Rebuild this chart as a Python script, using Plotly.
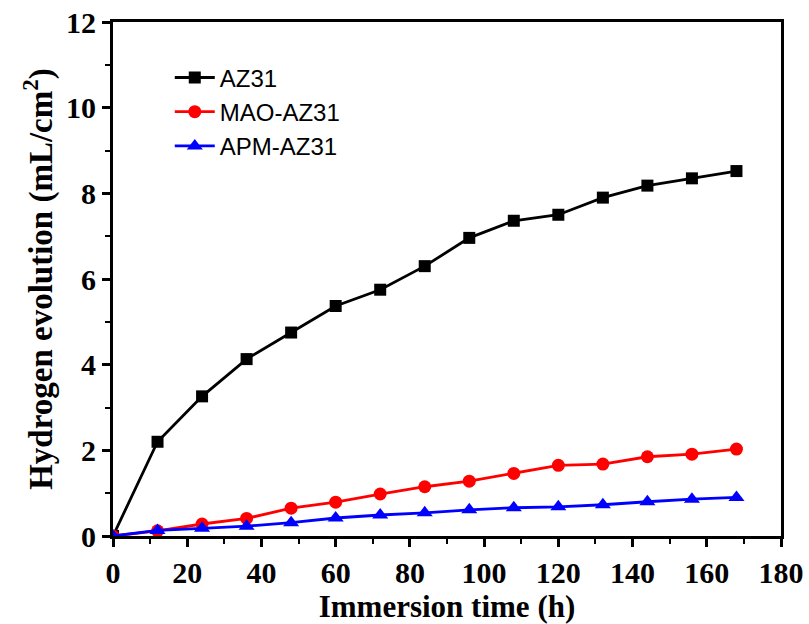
import plotly.graph_objects as go

time_h = [0, 12, 24, 36, 48, 60, 72, 84, 96, 108, 120, 132, 144, 156, 168]
az31 = [0.0, 2.20, 3.26, 4.13, 4.75, 5.37, 5.75, 6.30, 6.96, 7.36, 7.50, 7.90, 8.18, 8.35, 8.52]
mao_az31 = [0.0, 0.12, 0.28, 0.41, 0.65, 0.79, 0.98, 1.15, 1.28, 1.46, 1.65, 1.68, 1.85, 1.91, 2.03]
apm_az31 = [0.0, 0.13, 0.18, 0.23, 0.31, 0.42, 0.49, 0.54, 0.61, 0.66, 0.68, 0.73, 0.80, 0.86, 0.90]

series = [
    ("AZ31", az31, "black", "square", 12),
    ("MAO-AZ31", mao_az31, "red", "circle", 13),
    ("APM-AZ31", apm_az31, "blue", "triangle-up", 14),
]

fig = go.Figure()
for name, vals, col, sym, sz in series:
    fig.add_trace(go.Scatter(
        x=time_h, y=vals, name=name, mode="lines+markers",
        line=dict(color=col, width=2.8),
        marker=dict(symbol=sym, size=sz, color=col),
    ))

serif = "Liberation Serif"
fig.update_layout(
    width=809, height=624,
    margin=dict(l=113, r=28, t=22, b=88),
    paper_bgcolor="white", plot_bgcolor="white",
    showlegend=True,
    legend=dict(x=0.085, y=0.935, xanchor="left", yanchor="top",
                font=dict(family="Liberation Sans", size=24, color="black"),
                bgcolor="rgba(0,0,0,0)", tracegroupgap=0, itemwidth=40),
    xaxis=dict(
        range=[0, 180], tickmode="linear", tick0=0, dtick=20, automargin=False,
        ticks="outside", ticklen=8, tickwidth=2.5, tickcolor="black",
        minor=dict(dtick=10, ticks="outside", ticklen=5, tickwidth=2, tickcolor="black"),
        showline=True, linewidth=3, linecolor="black", mirror=True,
        showgrid=False, zeroline=False,
        tickfont=dict(family=serif, size=30, color="black", weight="bold"),
        title=dict(text="Immersion time (h)", standoff=0,
                   font=dict(family=serif, size=31, color="black", weight="bold")),
    ),
    yaxis=dict(
        range=[0, 12], tickmode="linear", tick0=0, dtick=2, automargin=False,
        ticks="outside", ticklen=8, tickwidth=2.5, tickcolor="black",
        minor=dict(dtick=1, ticks="outside", ticklen=5, tickwidth=2, tickcolor="black"),
        showline=True, linewidth=3, linecolor="black", mirror=True,
        showgrid=False, zeroline=False,
        tickfont=dict(family=serif, size=30, color="black", weight="bold"),
        title=dict(text="Hydrogen evolution (mL/cm<sup>2</sup>)", standoff=4,
                   font=dict(family=serif, size=33, color="black", weight="bold")),
    ),
)

fig.write_html("out.html")
